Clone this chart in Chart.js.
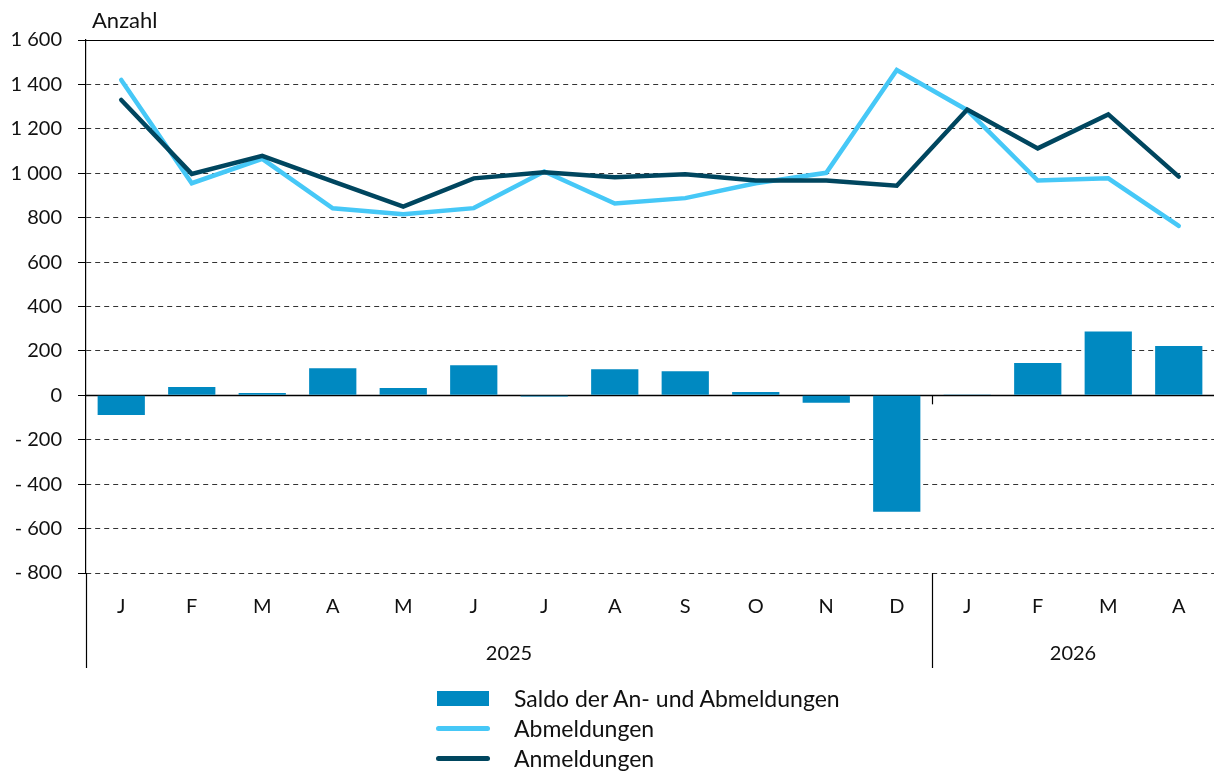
<!DOCTYPE html>
<html lang="de">
<head>
<meta charset="utf-8">
<script src="https://cdn.jsdelivr.net/npm/chart.js@4"></script>
<style>
  html, body { margin: 0; padding: 0; background: #fff; }
  #wrap { position: relative; width: 1214px; height: 771px; font-family: Lato, sans-serif; }
  #chart { position: absolute; left: 0; top: 0; }
  #legend { position: absolute; left: 436px; top: 683px; font-size: 23px; color: #111; }
  .item { height: 30px; display: flex; align-items: center; }
  .sw { width: 54px; margin-right: 24px; display: flex; align-items: center; justify-content: center; }
  .box { width: 52px; height: 15px; background: #0089c1; }
  .ln { width: 55px; height: 5px; border-radius: 3px; }
</style>
</head>
<body>
<div id="wrap">
  <canvas id="chart" width="1214" height="771"></canvas>
  <div id="legend">
    <div class="item"><span class="sw"><span class="box"></span></span>Saldo der An- und Abmeldungen</div>
    <div class="item"><span class="sw"><span class="ln" style="background:#46c8f7"></span></span>Abmeldungen</div>
    <div class="item"><span class="sw"><span class="ln" style="background:#00465f"></span></span>Anmeldungen</div>
  </div>
</div>
<script>
const MONTHS = ['J', 'F', 'M', 'A', 'M', 'J', 'J', 'A', 'S', 'O', 'N', 'D', 'J', 'F', 'M', 'A'];
const YEARS = ['2025', '2026'];
const YEAR_COUNTS = [12, 4];

const anmeldungen = [1330, 997, 1078, 963, 850, 977, 1004, 982, 995, 967, 967, 944, 1287, 1112, 1265, 985];
const abmeldungen = [1420, 955, 1065, 842, 815, 843, 1008, 864, 888, 955, 1002, 1465, 1284, 967, 977, 763];
const saldo = [-88, 38, 10, 122, 33, 135, -5, 117, 108, 15, -33, -524, 4, 146, 287, 222];

const Y_MIN = -800, Y_MAX = 1600, Y_STEP = 200;

const COLORS = {
  bar: '#0089c1',
  ab: '#46c8f7',
  an: '#00465f'
};

const FONT = 'Lato, sans-serif';

function fmt(v) {
  const s = String(Math.abs(v)).replace(/\B(?=(\d{3})+(?!\d))/g, ' ');
  return v < 0 ? '- ' + s : s;
}

// extra lines and labels that chart.js has no option for
const extras = {
  id: 'extras',
  beforeDatasetsDraw(chart) {
    const { ctx, chartArea: a, scales: { y } } = chart;
    ctx.save();
    ctx.strokeStyle = '#000';
    ctx.lineWidth = 1.5;
    // zero line
    const y0 = Math.round(y.getPixelForValue(0)) + 0.5;
    ctx.beginPath();
    ctx.moveTo(a.left, y0);
    ctx.lineTo(a.right, y0);
    ctx.stroke();
    // top line
    const yt = Math.round(y.getPixelForValue(Y_MAX)) + 0.5;
    ctx.lineWidth = 1;
    ctx.beginPath();
    ctx.moveTo(a.left - 8, yt);
    ctx.lineTo(a.right, yt);
    ctx.stroke();
    ctx.restore();
  },
  afterDraw(chart) {
    const { ctx, chartArea: a, scales: { x, y } } = chart;
    const step = x.getPixelForValue(1) - x.getPixelForValue(0);
    const yBottom = 668;
    ctx.save();
    ctx.strokeStyle = '#000';
    ctx.lineWidth = 1.2;
    // y axis extended down through the label rows
    ctx.beginPath();
    ctx.moveTo(a.left + 0.5, a.bottom);
    ctx.lineTo(a.left + 0.5, yBottom);
    ctx.stroke();
    // year labels and separators
    let idx = 0;
    ctx.fillStyle = '#111';
    ctx.font = '20px ' + FONT;
    ctx.textAlign = 'center';
    ctx.textBaseline = 'middle';
    YEARS.forEach((yr, i) => {
      const start = x.getPixelForValue(idx) - step / 2;
      const end = x.getPixelForValue(idx + YEAR_COUNTS[i] - 1) + step / 2;
      ctx.fillText(yr, (start + end) / 2, 654);
      idx += YEAR_COUNTS[i];
      if (i < YEARS.length - 1) {
        const sx = Math.round(end) + 0.5;
        ctx.beginPath();
        ctx.moveTo(sx, a.bottom);
        ctx.lineTo(sx, yBottom);
        ctx.stroke();
        const y0 = y.getPixelForValue(0);
        ctx.beginPath();
        ctx.moveTo(sx, y0);
        ctx.lineTo(sx, y0 + 9);
        ctx.stroke();
      }
    });
    // unit label
    ctx.font = '22px ' + FONT;
    ctx.textAlign = 'left';
    ctx.textBaseline = 'alphabetic';
    ctx.fillText('Anzahl', 92, 28);
    ctx.restore();
  }
};

new Chart(document.getElementById('chart'), {
  data: {
    labels: MONTHS,
    datasets: [
      {
        type: 'line',
        label: 'Anmeldungen',
        data: anmeldungen,
        borderColor: COLORS.an,
        borderWidth: 4.5,
        pointRadius: 0,
        tension: 0,
        borderCapStyle: 'round',
        borderJoinStyle: 'miter',
        order: 1
      },
      {
        type: 'line',
        label: 'Abmeldungen',
        data: abmeldungen,
        borderColor: COLORS.ab,
        borderWidth: 4.5,
        pointRadius: 0,
        tension: 0,
        borderCapStyle: 'round',
        borderJoinStyle: 'miter',
        order: 2
      },
      {
        type: 'bar',
        label: 'Saldo der An- und Abmeldungen',
        data: saldo,
        backgroundColor: COLORS.bar,
        barPercentage: 0.67,
        categoryPercentage: 1,
        order: 3
      }
    ]
  },
  options: {
    responsive: false,
    animation: false,
    layout: { padding: { top: 40, left: 0, right: 0, bottom: 0 } },
    plugins: {
      legend: { display: false },
      tooltip: { enabled: false }
    },
    scales: {
      x: {
        offset: true,
        grid: { display: false, drawTicks: false },
        border: { display: false },
        ticks: {
          color: '#111',
          font: { family: FONT, size: 20 },
          padding: 22,
          maxRotation: 0,
          autoSkip: false
        },
        afterFit(scale) { scale.height = 771 - 573; }
      },
      y: {
        min: Y_MIN,
        max: Y_MAX,
        grid: {
          color: '#333',
          lineWidth: 1,
          tickLength: 8,
          tickColor: '#000',
          tickBorderDash: [1, 0]
        },
        border: { display: true, color: '#000', width: 1.2, dash: [5, 4] },
        ticks: {
          stepSize: Y_STEP,
          color: '#111',
          font: { family: FONT, size: 20 },
          padding: 16,
          callback: v => fmt(v)
        },
        afterFit(scale) { scale.width = 86; }
      }
    }
  },
  plugins: [extras]
});
</script>
</body>
</html>
